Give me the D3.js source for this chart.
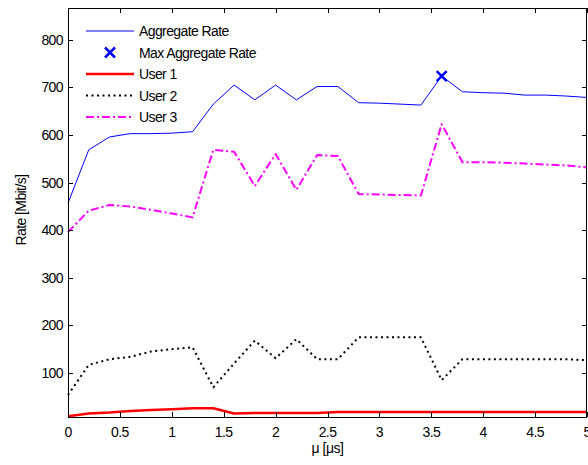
<!DOCTYPE html>
<html>
<head>
<meta charset="utf-8">
<script src="https://cdn.jsdelivr.net/npm/d3@7"></script>
<style>
  body { margin: 0; background: #fff; }
  svg { font-family: "Liberation Sans", Arial, sans-serif; }
</style>
</head>
<body>
<svg id="chart" width="588" height="465"></svg>
<script>
const mu = [0, 0.2, 0.4, 0.6, 0.8, 1.0, 1.2, 1.4, 1.6, 1.8, 2.0, 2.2, 2.4,
  2.6, 2.8, 3.0, 3.2, 3.4, 3.6, 3.8, 4.0, 4.2, 4.4, 4.6, 4.8, 5.0];

const aggregateRate = [457, 569, 596, 603, 603, 604, 607, 665, 705, 674, 705, 674, 702,
  702, 668, 667, 665, 663, 724, 691, 689, 688, 684, 684, 682, 679];
const user1 = [9, 15, 17, 20, 22, 24, 26, 26, 15, 16, 16, 16, 16,
  18, 18, 18, 18, 18, 18, 18, 18, 18, 18, 18, 18, 18];
const user2 = [54, 117, 129, 134, 145, 150, 154, 70, 120, 168, 131, 171, 129,
  129, 175, 175, 175, 175, 85, 129, 129, 129, 129, 129, 129, 127];
const user3 = [396, 441, 453, 450, 443, 435, 427, 569, 565, 493, 560, 485, 558,
  556, 476, 475, 474, 473, 623, 543, 543, 542, 540, 538, 536, 532];

const maxPoint = { mu: 3.6, rate: 724 };

const xTicks = [0, 0.5, 1, 1.5, 2, 2.5, 3, 3.5, 4, 4.5, 5];
const yTicks = [100, 200, 300, 400, 500, 600, 700, 800];

const series = [
  { name: "Aggregate Rate", values: aggregateRate, color: "#0000ff", width: 1, dash: null },
  { name: "User 1", values: user1, color: "#ff0000", width: 2.5, dash: null },
  { name: "User 2", values: user2, color: "#000000", width: 2, dash: "2,3.5" },
  { name: "User 3", values: user3, color: "#ff00ff", width: 2, dash: "8,3,2,3" }
];

const svg = d3.select("#chart");
const plotLeft = 68, plotRight = 587, plotTop = 8, plotBottom = 417;
const TICK = 5;

const x = d3.scaleLinear().domain([0, 5]).range([plotLeft, plotRight]);
const y = d3.scaleLinear().domain([7.5, 867]).range([plotBottom, plotTop]);

// lines
const line = d3.line().x((d, i) => x(mu[i])).y((d) => y(d));
const plot = svg.append("g");
series.forEach((s) => {
  plot.append("path")
    .datum(s.values)
    .attr("fill", "none")
    .attr("stroke", s.color)
    .attr("stroke-width", s.width)
    .attr("stroke-dasharray", s.dash)
    .attr("stroke-linejoin", "round")
    .attr("d", line);
});

function cross(g, cx, cy, r) {
  g.append("path")
    .attr("d", `M${cx - r},${cy - r}L${cx + r},${cy + r}M${cx - r},${cy + r}L${cx + r},${cy - r}`)
    .attr("stroke", "#0000ff")
    .attr("stroke-width", 2.5)
    .attr("fill", "none");
}
cross(plot, x(maxPoint.mu), y(maxPoint.rate), 5);

// axes (ticks point inward, box on all sides)
const axes = svg.append("g").attr("fill", "none").attr("stroke", "#000").attr("stroke-width", 1);
axes.append("rect")
  .attr("x", plotLeft + 0.5).attr("y", plotTop + 0.5)
  .attr("width", plotRight - plotLeft - 1).attr("height", plotBottom - plotTop);

xTicks.forEach((t) => {
  const px = Math.round(x(t)) + 0.5;
  axes.append("line").attr("x1", px).attr("x2", px).attr("y1", plotBottom).attr("y2", plotBottom - TICK);
  axes.append("line").attr("x1", px).attr("x2", px).attr("y1", plotTop).attr("y2", plotTop + TICK);
});
yTicks.forEach((t) => {
  const py = Math.round(y(t)) + 0.5;
  axes.append("line").attr("x1", plotLeft).attr("x2", plotLeft + TICK).attr("y1", py).attr("y2", py);
  axes.append("line").attr("x1", plotRight).attr("x2", plotRight - TICK).attr("y1", py).attr("y2", py);
});

const labels = svg.append("g").attr("fill", "#000").attr("font-size", 14).attr("letter-spacing", "-0.6");
xTicks.forEach((t) => {
  labels.append("text")
    .attr("x", x(t)).attr("y", 437)
    .attr("text-anchor", "middle")
    .text(t);
});
yTicks.forEach((t) => {
  labels.append("text")
    .attr("x", 63).attr("y", y(t) + 5)
    .attr("text-anchor", "end")
    .text(t);
});

svg.append("text")
  .attr("x", (plotLeft + plotRight) / 2).attr("y", 453)
  .attr("text-anchor", "middle")
  .attr("font-size", 14)
  .attr("letter-spacing", "-0.5")
  .text("μ [μs]");

svg.append("text")
  .attr("transform", "translate(26,210) rotate(-90)")
  .attr("text-anchor", "middle")
  .attr("font-size", 14)
  .attr("letter-spacing", "-0.6")
  .text("Rate [Mbit/s]");

// legend
const legend = svg.append("g").attr("font-size", 14).attr("letter-spacing", "-0.6");
const legendItems = [
  { name: "Aggregate Rate", type: "line", s: series[0] },
  { name: "Max Aggregate Rate", type: "marker" },
  { name: "User 1", type: "line", s: series[1] },
  { name: "User 2", type: "line", s: series[2] },
  { name: "User 3", type: "line", s: series[3] }
];
legendItems.forEach((item, i) => {
  const ly = 31 + i * 21.5;
  if (item.type === "line") {
    legend.append("line")
      .attr("x1", 86).attr("x2", 134).attr("y1", ly).attr("y2", ly)
      .attr("stroke", item.s.color)
      .attr("stroke-width", item.s.width)
      .attr("stroke-dasharray", item.s.dash);
  } else {
    cross(legend, 110, ly, 5);
  }
  legend.append("text")
    .attr("x", 139).attr("y", ly + 5)
    .text(item.name);
});
</script>
</body>
</html>
